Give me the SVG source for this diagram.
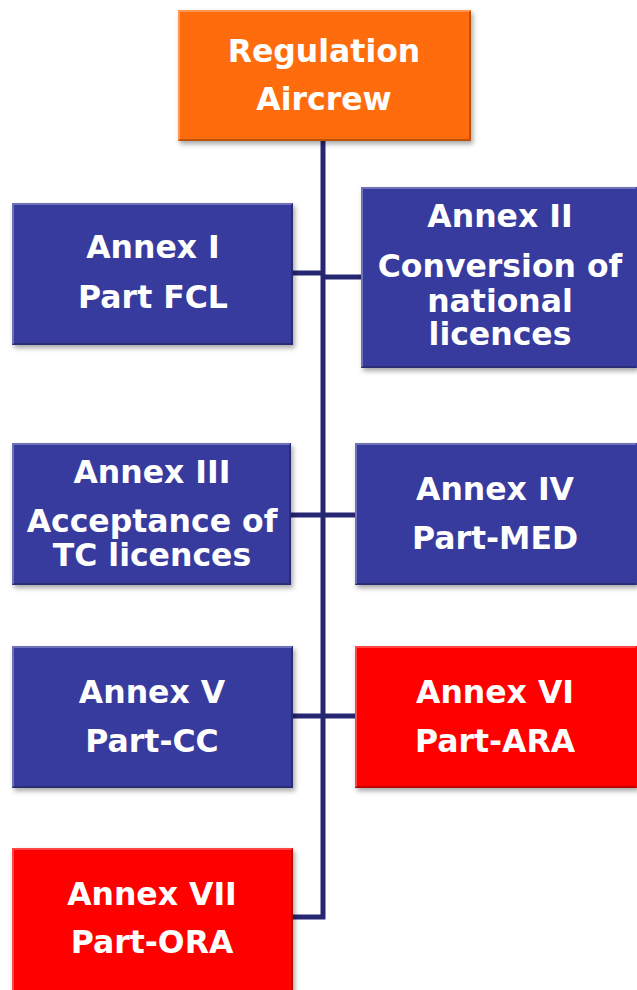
<svg xmlns="http://www.w3.org/2000/svg" width="637" height="990" viewBox="0 0 637 990">
<style>
.t{font-family:"DejaVu Sans","Verdana",sans-serif;font-weight:bold;font-size:31.5px;fill:#fff;text-anchor:middle}
.blue{fill:#383a9e}
.red{fill:#ff0000}
.orange{fill:#ff6c08}
.bev{fill:none;stroke:#ffffff;stroke-opacity:0.28;stroke-width:2}
.bevd{fill:none;stroke:#000;stroke-opacity:0.25;stroke-width:2}
.c{fill:none;stroke:#262673;stroke-width:5}
</style>
<defs>
<filter id="sh" x="-10%" y="-10%" width="125%" height="130%">
<feDropShadow dx="2" dy="3" stdDeviation="2.5" flood-color="#000" flood-opacity="0.35"/>
</filter>
</defs>
<g id="connectors">
<path class="c" d="M323,141 V917 H293"/>
<path class="c" d="M293,273 H323"/>
<path class="c" d="M323,277 H361"/>
<path class="c" d="M291,515 H355"/>
<path class="c" d="M293,716 H355"/>
</g>
<g id="regulation">
<rect class="orange" x="178" y="10" width="293" height="131" filter="url(#sh)"/>
<path class="bev" d="M179,140 V11 H470"/><path class="bevd" d="M179,140 H470 V11"/>
<text class="t" x="324" y="62">Regulation</text>
<text class="t" x="324" y="110">Aircrew</text>
</g>
<g id="annex1">
<rect class="blue" x="12" y="203" width="281" height="142" filter="url(#sh)"/>
<path class="bev" d="M13,344 V204 H292"/><path class="bevd" d="M13,344 H292 V204"/>
<text class="t" x="153" y="258">Annex I</text>
<text class="t" x="153" y="308">Part FCL</text>
</g>
<g id="annex2">
<rect class="blue" x="361" y="187" width="276" height="181" filter="url(#sh)"/>
<path class="bev" d="M362,367 V188 H636"/><path class="bevd" d="M362,367 H636"/>
<text class="t" x="500" y="227">Annex II</text>
<text class="t" x="500" y="277">Conversion of</text>
<text class="t" x="500" y="312">national</text>
<text class="t" x="500" y="345">licences</text>
</g>
<g id="annex3">
<rect class="blue" x="12" y="443" width="279" height="142" filter="url(#sh)"/>
<path class="bev" d="M13,584 V444 H290"/><path class="bevd" d="M13,584 H290 V444"/>
<text class="t" x="152" y="483">Annex III</text>
<text class="t" x="152" y="532">Acceptance of</text>
<text class="t" x="152" y="566">TC licences</text>
</g>
<g id="annex4">
<rect class="blue" x="355" y="443" width="282" height="142" filter="url(#sh)"/>
<path class="bev" d="M356,584 V444 H636"/><path class="bevd" d="M356,584 H636"/>
<text class="t" x="495" y="500">Annex IV</text>
<text class="t" x="495" y="549">Part-MED</text>
</g>
<g id="annex5">
<rect class="blue" x="12" y="646" width="281" height="142" filter="url(#sh)"/>
<path class="bev" d="M13,787 V647 H292"/><path class="bevd" d="M13,787 H292 V647"/>
<text class="t" x="152" y="703">Annex V</text>
<text class="t" x="152" y="752">Part-CC</text>
</g>
<g id="annex6">
<rect class="red" x="355" y="646" width="282" height="142" filter="url(#sh)"/>
<path class="bev" d="M356,787 V647 H636"/><path class="bevd" d="M356,787 H636"/>
<text class="t" x="495" y="703">Annex VI</text>
<text class="t" x="495" y="752">Part-ARA</text>
</g>
<g id="annex7">
<rect class="red" x="12" y="848" width="281" height="150" filter="url(#sh)"/>
<path class="bev" d="M13,990 V849 H292"/><path class="bevd" d="M292,990 V849"/>
<text class="t" x="152" y="905">Annex VII</text>
<text class="t" x="152" y="953">Part-ORA</text>
</g>
</svg>
